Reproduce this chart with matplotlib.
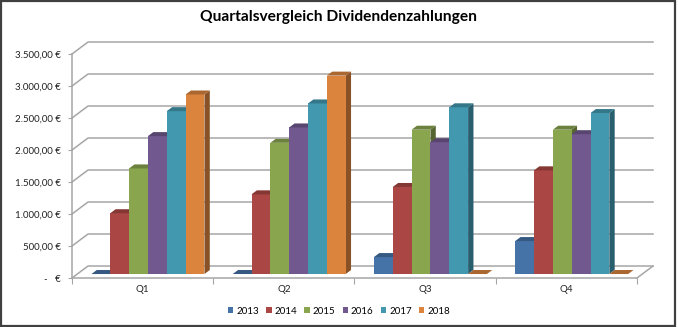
import numpy as np
import matplotlib.pyplot as plt
from matplotlib.patches import Polygon, Patch, Rectangle
from matplotlib.colors import to_rgb

plt.rcParams['font.family'] = ['Lato', 'DejaVu Sans']

quarters = ['Q1', 'Q2', 'Q3', 'Q4']
years = ['2013', '2014', '2015', '2016', '2017', '2018']
values = {
    '2013': [0, 0, 265, 515],
    '2014': [950, 1245, 1360, 1620],
    '2015': [1650, 2050, 2255, 2255],
    '2016': [2155, 2290, 2060, 2185],
    '2017': [2545, 2665, 2605, 2515],
    '2018': [2805, 3100, 0, 0],
}
colors = ['#4572A7', '#AA4643', '#89A54E', '#71588F', '#4198AF', '#DB843D']
yticks = [0, 500, 1000, 1500, 2000, 2500, 3000, 3500]


def euro(v):
    if v == 0:
        return '-   €'
    return f'{v:,.2f}'.replace(',', 'X').replace('.', ',').replace('X', '.') + ' €'


def shade(c, f):
    r, g, b = to_rgb(c)
    return (r * f, g * f, b * f)


fig = plt.figure(figsize=(6.78, 3.27), dpi=100, facecolor='white')
ax = fig.add_axes([0.1062, 0.1498, 0.8333, 0.6850])
ax.set_xlim(0, 4)
ax.set_ylim(0, 3500)
ax.set_facecolor('none')

# 3d depth of the floor, in data units (dx in categories, dy in euros)
dx, dy = 0.1133, 187.5
grid_c = '#a6a6a6'

# back wall grid lines with the diagonal to the front axis
for v in yticks:
    ax.plot([0, dx, 4 + dx], [v, v + dy, v + dy], color=grid_c, lw=1.1,
            clip_on=False, zorder=1)
# right floor edge
ax.plot([4, 4 + dx], [0, dy], color=grid_c, lw=1.1, clip_on=False, zorder=1)

# bars: front face at 1/3 depth, back at 2/3 depth
w = 0.8 / len(years)
bx, by = dx / 3, dy / 3
z = 3
for qi in range(len(quarters)):
    start = qi + 0.5 + bx - 0.4
    for yi, yr in enumerate(years):
        v = values[yr][qi]
        x0 = start + yi * w
        x1 = x0 + w
        c = colors[yi]
        y0 = by
        y1 = by + v
        front = Polygon([(x0, y0), (x1, y0), (x1, y1), (x0, y1)],
                        closed=True, fc=c, ec='none', zorder=z, clip_on=False)
        top = Polygon([(x0, y1), (x1, y1), (x1 + bx, y1 + by), (x0 + bx, y1 + by)],
                      closed=True, fc=shade(c, 0.78), ec='none', zorder=z, clip_on=False)
        side = Polygon([(x1, y0), (x1 + bx, y0 + by), (x1 + bx, y1 + by), (x1, y1)],
                       closed=True, fc=shade(c, 0.62), ec='none', zorder=z, clip_on=False)
        ax.add_patch(side)
        ax.add_patch(front)
        ax.add_patch(top)
        z += 1

for s in ['top', 'right']:
    ax.spines[s].set_visible(False)
for s in ['left', 'bottom']:
    ax.spines[s].set_color(grid_c)
    ax.spines[s].set_linewidth(1.1)

ax.set_yticks(yticks)
ax.set_yticklabels([euro(v) for v in yticks])
ax.tick_params(axis='y', length=3, color=grid_c, labelsize=7, pad=5,
               labelcolor='#222222')
ax.set_xticks([0, 1, 2, 3, 4])
ax.set_xticklabels([])
ax.tick_params(axis='x', which='major', length=4, color=grid_c)
ax.set_xticks([0.5, 1.5, 2.5, 3.5], minor=True)
ax.set_xticklabels(quarters, minor=True)
ax.tick_params(axis='x', which='minor', length=0, labelsize=7, pad=5,
               labelcolor='#222222')

fig.text(0.5, 0.948, 'Quartalsvergleich Dividendenzahlungen', ha='center',
         va='center', fontsize=11.2, fontweight='bold', color='black')

handles = [Patch(facecolor=c, edgecolor='none', label=y) for c, y in zip(colors, years)]
fig.legend(handles=handles, loc='center', bbox_to_anchor=(0.5, 0.048), ncol=6,
           frameon=False, fontsize=7, handlelength=0.55, handleheight=0.55,
           handletextpad=0.3, columnspacing=0.75)

fig.patches.append(Rectangle((0.002, 0.003), 0.994, 0.994, transform=fig.transFigure,
                             fill=False, ec='#404040', lw=1.6))

fig.savefig('out.png', dpi=100, facecolor='white')
